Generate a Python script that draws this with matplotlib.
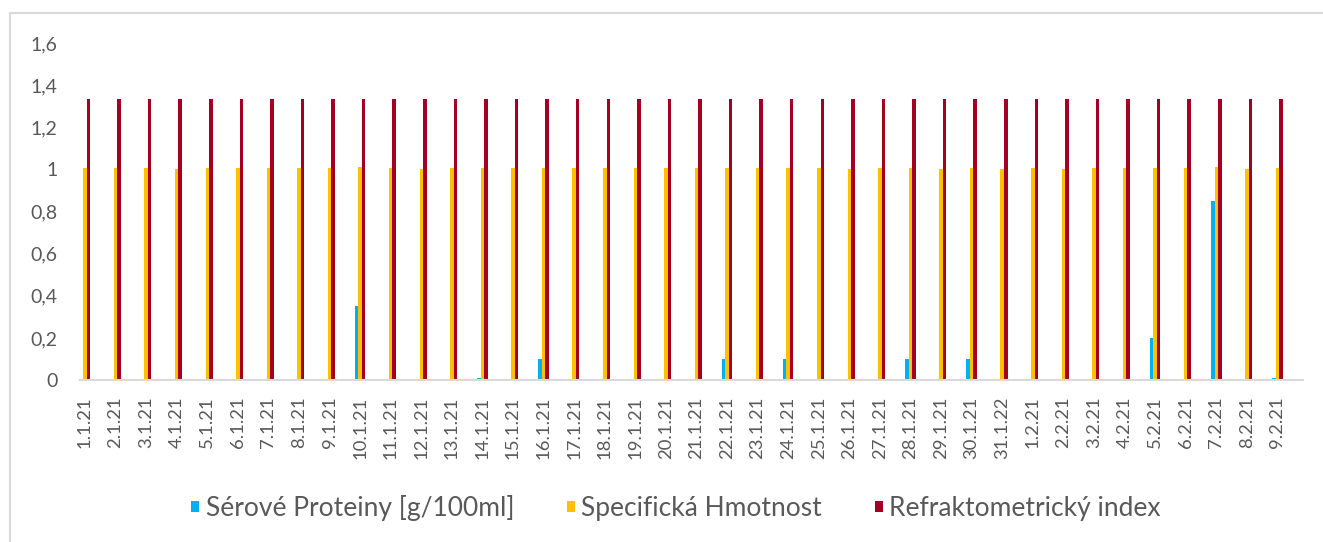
import matplotlib
matplotlib.use("Agg")
import matplotlib.pyplot as plt
from matplotlib.patches import Rectangle
import numpy as np

dates = [f"{d}.1.21" for d in range(1, 31)] + ["31.1.22"] + [f"{d}.2.21" for d in range(1, 10)]

serove_proteiny = [0, 0, 0, 0, 0, 0, 0, 0, 0, 0.35,
                   0, 0, 0, 0.01, 0, 0.1, 0, 0, 0, 0,
                   0, 0.1, 0, 0.1, 0, 0, 0, 0.1, 0, 0.1,
                   0, 0, 0, 0, 0, 0.2, 0, 0.85, 0, 0.01]

specificka_hmotnost = [1.006, 1.006, 1.006, 1.003, 1.006, 1.006, 1.007, 1.006, 1.007, 1.011,
                       1.006, 1.003, 1.006, 1.008, 1.006, 1.008, 1.006, 1.006, 1.006, 1.006,
                       1.007, 1.008, 1.006, 1.008, 1.008, 1.003, 1.006, 1.008, 1.004, 1.008,
                       1.003, 1.008, 1.003, 1.006, 1.008, 1.008, 1.006, 1.011, 1.004, 1.008]

refraktometricky_index = [1.334, 1.334, 1.334, 1.335, 1.335, 1.334, 1.334, 1.334, 1.334, 1.336,
                          1.335, 1.334, 1.334, 1.335, 1.334, 1.336, 1.334, 1.334, 1.334, 1.334,
                          1.334, 1.334, 1.334, 1.336, 1.334, 1.334, 1.334, 1.334, 1.334, 1.336,
                          1.334, 1.334, 1.334, 1.334, 1.335, 1.336, 1.334, 1.336, 1.333, 1.336]

series_names = ["Sérové Proteiny [g/100ml]", "Specifická Hmotnost", "Refraktometrický index"]
colors = ["#00B0F0", "#FFC000", "#A50021"]
text_color = "#595959"
grid_color = "#D9D9D9"

plt.rcParams["font.family"] = ["Lato", "DejaVu Sans"]

W, H = 1323, 542
fig = plt.figure(figsize=(W / 100, H / 100), dpi=100)
ax = fig.add_axes([80 / W, 1 - 380 / H, 1223 / W, 337 / H])

x = np.arange(len(dates))
bw = 0.115
for k, (vals, name, col) in enumerate(zip([serove_proteiny, specificka_hmotnost, refraktometricky_index],
                                          series_names, colors)):
    ax.bar(x + (k - 1) * bw, vals, width=bw, color=col, label=name, linewidth=0)

ax.set_xlim(-0.163, len(dates) - 0.163)
ax.set_ylim(0, 1.6)
yt = np.arange(0, 1.61, 0.2)
ax.set_yticks(yt)
ax.set_yticklabels(["0" if v == 0 else f"{v:.1f}".rstrip("0").rstrip(".").replace(".", ",") for v in yt])
ax.set_xticks(x)
ax.set_xticklabels(dates, rotation=90)
ax.tick_params(axis="y", length=0, pad=16, labelsize=14, labelcolor=text_color)
ax.tick_params(axis="x", length=0, pad=12, labelsize=13.3, labelcolor=text_color)

for s in ["top", "right", "left"]:
    ax.spines[s].set_visible(False)
ax.spines["bottom"].set_color(grid_color)
ax.spines["bottom"].set_linewidth(1.5)

# chart area border
fig.patches.append(Rectangle((10 / W, -0.05), 1.1, 1 - 13 / H + 0.05, transform=fig.transFigure,
                             fill=False, edgecolor=grid_color, linewidth=1.5))

leg = fig.legend(loc="center", bbox_to_anchor=(676 / W, 1 - 508 / H), ncol=3, frameon=False,
                 fontsize=19, handlelength=0.3, handleheight=0.3, handletextpad=0.25,
                 columnspacing=2.0)
for t in leg.get_texts():
    t.set_color(text_color)

fig.savefig("out.png", dpi=100)
